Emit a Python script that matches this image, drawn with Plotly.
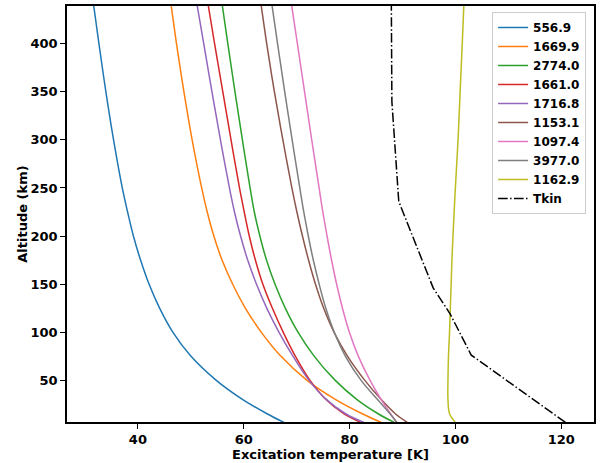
import plotly.graph_objects as go

# Altitude grid (km) at which the excitation temperatures are tabulated
altitude = [6, 15, 30, 50, 75, 100, 125, 150, 175, 200, 225, 250, 300, 350, 400, 440]

# Excitation temperature [K] for each transition (label = frequency in GHz)
t_556_9 = [67.6, 64.4, 59.75, 54.75, 50.0, 46.6, 44.1, 42.1, 40.5, 39.15, 38.05, 37.05,
           35.4, 33.95, 32.64, 31.64]
t_1669_9 = [86.0, 82.4, 77.3, 71.9, 67.0, 63.3, 60.3, 57.9, 55.9, 54.35, 53.1, 52.05,
            50.25, 48.7, 47.3, 46.29]
t_2774_0 = [88.45, 85.4, 81.35, 77.25, 73.3, 70.25, 67.85, 65.9, 64.3, 63.05, 62.0, 61.2,
            59.75, 58.35, 57.0, 55.95]
t_1661_0 = [82.1, 78.9, 75.5, 72.5, 69.75, 67.45, 65.4, 63.6, 62.2, 61.05, 60.1, 59.2,
            57.6, 56.05, 54.5, 53.3]
t_1716_8 = [82.7, 79.25, 75.6, 72.3, 69.3, 66.65, 64.35, 62.4, 60.75, 59.4, 58.25, 57.3,
            55.6, 54.0, 52.45, 51.2]
t_1153_1 = [90.9, 88.65, 85.95, 82.85, 79.6, 77.05, 75.1, 73.55, 72.25, 71.1, 70.05, 69.1,
            67.4, 65.8, 64.35, 63.3]
t_1097_4 = [88.9, 87.75, 85.95, 83.85, 81.65, 79.95, 78.65, 77.55, 76.6, 75.75, 74.95, 74.25,
            72.85, 71.5, 70.15, 69.06]
t_3977_0 = [88.95, 87.65, 85.25, 82.15, 79.2, 77.1, 75.5, 74.25, 73.15, 72.2, 71.35, 70.6,
            69.15, 67.75, 66.4, 65.35]
t_1162_9 = [100.0, 98.9, 98.6, 98.6, 98.7, 98.9, 99.05, 99.2, 99.35, 99.55, 99.77, 100.0,
            100.5, 100.9, 101.3, 101.6]

# Kinetic temperature profile
tkin_altitude = [6, 76, 119, 146, 236, 340, 440]
tkin = [120.8, 103.0, 99.0, 95.8, 89.3, 88.0, 87.9]

labels = ["556.9", "1669.9", "2774.0", "1661.0", "1716.8",
          "1153.1", "1097.4", "3977.0", "1162.9"]
series = [t_556_9, t_1669_9, t_2774_0, t_1661_0, t_1716_8,
          t_1153_1, t_1097_4, t_3977_0, t_1162_9]
colors = ["#1f77b4", "#ff7f0e", "#2ca02c", "#d62728", "#9467bd",
          "#8c564b", "#e377c2", "#7f7f7f", "#bcbd22"]

font = dict(family="DejaVu Sans", size=13, color="black", weight="bold")
legend_font = dict(family="DejaVu Sans", size=12, color="black", weight="bold")

fig = go.Figure()
for name, temps, color in zip(labels, series, colors):
    fig.add_trace(go.Scatter(
        x=temps, y=altitude, mode="lines", name=name,
        line=dict(color=color, width=1.5, shape="spline", smoothing=1.0),
    ))

fig.add_trace(go.Scatter(
    x=tkin, y=tkin_altitude, mode="lines", name="Tkin",
    line=dict(color="black", width=1.5, dash="9.6px,2.4px,1.5px,2.4px"),
))

axis_common = dict(
    showline=True, mirror=True, linecolor="black", linewidth=1.5,
    ticks="outside", ticklen=5, tickwidth=1.2, tickcolor="black",
    showgrid=False, zeroline=False, tickfont=font,
)

fig.update_layout(
    width=606, height=463,
    margin=dict(l=67, r=12, t=4, b=41),
    paper_bgcolor="white", plot_bgcolor="white",
    font=font,
    showlegend=True,
    legend=dict(
        x=0.985, y=0.9856, xanchor="right", yanchor="top",
        bgcolor="rgba(255,255,255,0.8)", bordercolor="#cccccc", borderwidth=1,
        font=legend_font, tracegroupgap=0, itemwidth=30,
    ),
    xaxis=dict(
        range=[26.6, 126.2], tickvals=[40, 60, 80, 100, 120],
        title=dict(text="Excitation temperature [K]", font=font, standoff=0),
        **axis_common,
    ),
    yaxis=dict(
        range=[6.4, 439.4], tickvals=[50, 100, 150, 200, 250, 300, 350, 400],
        title=dict(text="Altitude (km)", font=font, standoff=0),
        **axis_common,
    ),
)

fig.write_html("out.html")
